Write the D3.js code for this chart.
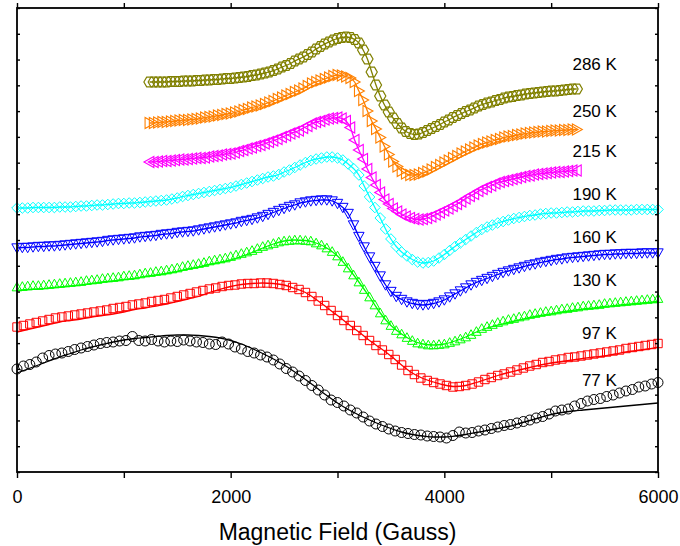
<!DOCTYPE html>
<html>
<head>
<meta charset="utf-8">
<script src="https://cdn.jsdelivr.net/npm/d3@7"></script>
<style>
  html, body { margin: 0; padding: 0; background: #ffffff; }
  svg { display: block; }
  text { font-family: "Liberation Sans", Arial, Helvetica, sans-serif; fill: #000; }
</style>
</head>
<body>
<svg id="chart" width="680" height="546"></svg>
<script>
// ---- axes ----
const fieldDomain = [0, 6000];            // Gauss
const intensityDomain = [0, 464];         // arbitrary units (spectra offset vertically)
const fieldTicks = [0, 1000, 2000, 3000, 4000, 5000, 6000];
const fieldTickLabels = ["0", "", "2000", "", "4000", "", "6000"];
const intensityTickCount = 18;

// ---- series ----
const temperatures = ["77 K", "97 K", "130 K", "160 K", "190 K", "215 K", "250 K", "286 K"];
const seriesColors = ["#000000", "#ff0000", "#00ff00", "#0000ff", "#00ffff", "#ff00ff", "#ff8000", "#808000"];
const seriesSymbols = ["circle", "square", "triangleUp", "triangleDown", "diamond", "triangleLeft", "triangleRight", "hexagon"];
// field sweep of each measured spectrum (Gauss)
const sweepStart = [0, 0, 0, 0, 0, 1240, 1240, 1240];
const sweepStep = [60, 60, 50, 50, 50, 40, 40, 40];
// fitted curves are tabulated every 100 G from 0 G
const fitStep = 100;

const data77 = [
  103,106,107.5,110,114,116.5,118,119,120.5,122.5,
  124,125.5,127,128.5,129.5,130,131,131.5,135.5,131.5,
  131,132.5,131,130,131,130.5,132,131,130,129.5,
  128,127.5,130,128,125,123,120.5,119,117,115,
  112,108,103.5,100,96,91.5,86.5,82,77,72,
  69.5,66,62,59,55,51,48,45.5,43,41,
  39.5,38.5,37.5,37,36,35.5,35,34,36.5,40,
  39,39.5,41,42,43.5,45,46.5,47.5,49,50.5,
  52,54,55.5,58,61,62,63,66,68.5,71,
  72.5,73.5,75.5,77,79,81,82.5,85,86,88,
  89.5
];
const fit77 = [
  99,103,107,111,115,118.5,122,125,127.5,130,
  132,133.5,134.5,135.5,136.5,137,137,136.5,135.5,134,
  131.5,128,123.5,118.5,113,107,100,92.5,84.5,76.5,
  69,62.5,57,52,47.5,43.5,40,37.5,36,35,
  35,36,37.5,39.5,41.5,43.5,45.5,48.5,51.5,54.5,
  57.5,59.5,61,62,63,64,65,66,67,68,
  69
];

const data97 = [
  145,146.5,148,149.5,151,152.5,154,155,156,157,
  158,159,160,161,162,163.5,164.5,165.5,167,168,
  169,170.5,171.5,172.5,174,175.5,177,178.5,180,181.5,
  183,184,185.5,186.5,187,188,188.5,188.5,189,189,
  188.5,187.5,186.5,184.5,182.5,179.5,175.5,171,166.5,161.5,
  156.5,151.5,146.5,141.5,136.5,131.5,126.5,122,117.5,112.5,
  107,101.5,97.5,94,91.5,89.5,88,86.5,85,85.5,
  86.5,88,90,92.5,94.5,96.5,98,100,102,104,
  106,107.5,109.5,110.5,112,113,114.5,115,116,117,
  118,119,120,121,122,123.5,124.5,125.5,126.5,127.5,
  128.5
];
const fit97 = [
  140,142.5,145,147.5,150,151.5,153,155,156.5,158,
  160,162.5,164,166,168,170.5,173,175.5,179.5,182.5,
  185.5,187.5,188.5,189,188.5,187,183.5,179.5,172.5,164.5,
  156.5,148,140,131.5,124,116,107,99,93.5,90,
  87,85.5,86.5,89.5,93,96.5,99.5,102,104.5,107,
  109,110.5,112,113.5,115,116,118,120,121.5,123,
  125
];

const data130 = [
  185,185.5,186,186.5,186.5,187,187.5,188,188.5,189,
  189.5,190,190.5,191.5,192,192.5,193.5,194,194.5,195,
  196,196.5,197,198,199,199.5,200.5,201,202,203,
  204,205.5,206.5,207.5,208.5,209.5,211,212,213,214,
  215.5,217,218.5,220,221.5,223.5,225.5,227,228.5,230,
  231,231.5,232,232,231.5,231,229,227,224,220.5,
  216,210.5,204,197,190,182.5,175,167,159,152,
  146.5,141.5,138,134.5,131.5,129,128,127,127,127.5,
  128,129.5,131,133,135,137.5,140.5,143.5,145.5,147.5,
  149.5,151,152.5,153.5,155,156,157.5,158.5,159.5,160.5,
  161,162,163,163.5,164.5,165,166,166.5,167,167.5,
  168.5,169,169.5,170,170.5,171,171.5,172,172.5,173,
  173.5
];
const fit130 = [
  181.5,182.5,183,184,185,186,187,188.5,190,191,
  192.5,193.5,195.5,197,198.5,200.5,203,205,207.5,209.5,
  212,215.5,219.5,224,228,231,232,231.5,229,224,
  216,204,190,175,159,146.5,138,131.5,128,127,
  128,131,135,140,144,147,149.5,152,154.5,156.5,
  158,160,161.5,163,164,165.5,166.5,167.5,168.5,169.5,
  170.5
];

const data160 = [
  224,224.5,224.5,225,225.5,225.5,226,226,226.5,227,
  227.5,228,228.5,229,229.5,230,230.5,231.5,232,232.5,
  233,233.5,234,235,235.5,236,236.5,237.5,238,238.5,
  239.5,240,240.5,241,242,243,244,245,246,247,
  248,249,250.5,251.5,252.5,254,255.5,257.5,259.5,261.5,
  263.5,265.5,267,269,270,271,271.5,272,272,271,
  268.5,264.5,258.5,247,235.5,225,215,205.5,196,187,
  180.5,175.5,172.5,170,168.5,167.5,167,167.5,168.5,170,
  172,175,178,181,184,187,189.5,191.5,193.5,195.5,
  197.5,199.5,201,202.5,204,205.5,207,208,209.5,210.5,
  211.5,212.5,213,214,214.5,215,215.5,216,216.5,217,
  217.5,217.5,218,218,218.5,218.5,218.5,219,219,219,
  219
];

const data190 = [
  264,264,264,264.5,264.5,264.5,264.5,264.5,265,265,
  265,265.5,266,266,266.5,267,267,267.5,268,268.5,
  268.5,269,269,269.5,270,270.5,271,271.5,272,273,
  274,275.5,276.5,277.5,278.5,279.5,280.5,281.5,282.5,283.5,
  284.5,286,287.5,289,290.5,292,293.5,295,296,297.5,
  300,302,304.5,307,309.5,311.5,313,314,315,315,
  314,312,308,303.5,297,286,275,264.5,254,243,
  233,225.5,220,216,212.5,210,209,209.5,211,214,
  217.5,221.5,225.5,229,232.5,236,239.5,242.5,245,247,
  249,250.5,252,253.5,254.5,255.5,256.5,257,258,258.5,
  259,259,259.5,260,260,260.5,261,261,261,261.5,
  261.5,262,262,262,262,262,262.5,262.5,262.5,262.5,
  262.5
];

const data215 = [
  310,310,310.5,311,311,311.5,312,312.5,312.5,313,
  313.5,314,314,314.5,315.5,316,316.5,317.5,318,318.5,
  319.5,321,322,323.5,324.5,326,327,328.5,330,331.5,
  333,335,336.5,338.5,340,341.5,344,346,348.5,350,
  351,352.5,353.5,354,354.5,353.5,351,344.5,332,322,
  313,303,294.5,287,279.5,272.5,268,263.5,260.5,257.5,
  255.5,254,253,252.5,253,254,255.5,257.5,259.5,261.5,
  263.5,266,268,270.5,273.5,276,278,281,283,285,
  286.5,288.5,290,291,292,293,294,295,296,296.5,
  297.5,298,298.5,299,299.5,300,300,300.5,301,301.5,
  301.5
];

const data250 = [
  349,349,349.5,350,350,350.5,351,351.5,352,352,
  352.5,353,353.5,354.5,355,355.5,356.5,357,358,358.5,
  359.5,360.5,362,363,364.5,365.5,366.5,368,369.5,371,
  373,374.5,376.5,378,380,381.5,383.5,386,388.5,390,
  391.5,393,394.5,396,397,396.5,395.5,394,390,381,
  372,361,351,343,334.5,325.5,317.5,310.5,305.5,301,
  298.5,297,297,297.5,299,300.5,302.5,305,307,309.5,
  311.5,314,316,318.5,320.5,322.5,324.5,326.5,328,329.5,
  330.5,332,333,334.5,335.5,336,337,337.5,338.5,339,
  339.5,340,340.5,340.5,341,341.5,341.5,342,342,342.5,
  342.5
];

const data286 = [
  390,390,390,390,390,390.5,390.5,390.5,391,391,
  391,391.5,391.5,392,392,392.5,392.5,393,393.5,393.5,
  394,394.5,395,395.5,396.5,397,398,399,400,401.5,
  403,405,406.5,408.5,411,413,415,417.5,420,423,
  425.5,428,430,432,433.5,434.5,435,434.5,432.5,429,
  422,413,400,387,376,367,360,354,348.5,344,
  340.5,338.5,337.5,338,339.5,341.5,343.5,345.5,347.5,350,
  352,354.5,356.5,358.5,360.5,362,364,366,367.5,369,
  370,371.5,372.5,374,375,375.5,376.5,377,378,378.5,
  379,379.5,380,380.5,381,381,381.5,382,382.5,383,
  383
];

const measured = [data77, data97, data130, data160, data190, data215, data250, data286];
const fitted = [fit77, fit97, fit130, null, null, null, null, null];

// temperature label anchors: [field (G), intensity]
const labelAnchors = [[5615, 86], [5615, 133], [5615, 186], [5615, 229], [5615, 272], [5615, 315], [5615, 355], [5615, 402]];

// ---- layout ----
const plot = { left: 17, right: 658, top: 8, bottom: 472 };
const svg = d3.select("#chart");

const x = d3.scaleLinear().domain(fieldDomain).range([plot.left, plot.right]);
const y = d3.scaleLinear().domain(intensityDomain).range([plot.bottom, plot.top]);

const yTicks = d3.range(intensityTickCount + 1).map(i =>
  intensityDomain[0] + i * (intensityDomain[1] - intensityDomain[0]) / intensityTickCount);

// marker outlines
function symbolPath(type, s) {
  const pts = (arr) => "M" + arr.map(p => p[0].toFixed(2) + "," + p[1].toFixed(2)).join("L") + "Z";
  switch (type) {
    case "circle":
      return `M${-s},0A${s},${s} 0 1,0 ${s},0A${s},${s} 0 1,0 ${-s},0Z`;
    case "square":
      return pts([[-s, -s], [s, -s], [s, s], [-s, s]]);
    case "triangleUp":
      return pts([[0, -s], [s, 0.8 * s], [-s, 0.8 * s]]);
    case "triangleDown":
      return pts([[0, s], [s, -0.8 * s], [-s, -0.8 * s]]);
    case "triangleLeft":
      return pts([[-s, 0], [0.8 * s, -s], [0.8 * s, s]]);
    case "triangleRight":
      return pts([[s, 0], [-0.8 * s, -s], [-0.8 * s, s]]);
    case "diamond":
      return pts([[0, -s], [s, 0], [0, s], [-s, 0]]);
    case "hexagon":
      return pts([[-s, 0], [-s / 2, -0.87 * s], [s / 2, -0.87 * s], [s, 0], [s / 2, 0.87 * s], [-s / 2, 0.87 * s]]);
  }
}
const symbolSize = { circle: 5, square: 4.2, triangleUp: 4.8, triangleDown: 5.2, diamond: 5.3, triangleLeft: 5.5, triangleRight: 5.5, hexagon: 5.6 };
const symbolStroke = { circle: 1, square: 1, triangleUp: 1, triangleDown: 1, diamond: 1, triangleLeft: 1.1, triangleRight: 1.1, hexagon: 1.2 };

const line = d3.line().x(d => x(d[0])).y(d => y(d[1])).curve(d3.curveMonotoneX);

// ---- spectra ----
const gSeries = svg.append("g");
temperatures.forEach((t, k) => {
  const pts = measured[k].map((v, i) => [sweepStart[k] + i * sweepStep[k], v]);
  const fitPts = fitted[k] ? fitted[k].map((v, i) => [i * fitStep, v]) : pts;
  const g = gSeries.append("g").attr("class", "series");
  const type = seriesSymbols[k];
  const sym = symbolPath(type, symbolSize[type]);
  g.selectAll("path.marker").data(pts).enter().append("path")
    .attr("class", "marker")
    .attr("d", sym)
    .attr("transform", d => `translate(${x(d[0])},${y(d[1])})`)
    .attr("fill", "none")
    .attr("stroke", seriesColors[k])
    .attr("stroke-width", symbolStroke[type]);
  g.append("path")
    .attr("d", line(fitPts))
    .attr("fill", "none")
    .attr("stroke", seriesColors[k])
    .attr("stroke-width", 1.3);
});

// ---- temperature labels ----
svg.append("g").selectAll("text").data(temperatures).enter().append("text")
  .attr("x", (d, k) => x(labelAnchors[k][0]))
  .attr("y", (d, k) => y(labelAnchors[k][1]))
  .attr("text-anchor", "end")
  .attr("font-size", 17)
  .text(d => d);

// ---- axes ----
const axBottom = svg.append("g").attr("transform", `translate(0,${plot.bottom})`)
  .call(d3.axisBottom(x).tickValues(fieldTicks).tickFormat((d, i) => fieldTickLabels[i]).tickSize(6).tickPadding(12));
const axTop = svg.append("g").attr("transform", `translate(0,${plot.top})`)
  .call(d3.axisTop(x).tickValues(fieldTicks).tickFormat("").tickSize(5));
const axLeft = svg.append("g").attr("transform", `translate(${plot.left},0)`)
  .call(d3.axisLeft(y).tickValues(yTicks).tickFormat("").tickSize(-3));
const axRight = svg.append("g").attr("transform", `translate(${plot.right},0)`)
  .call(d3.axisRight(y).tickValues(yTicks).tickFormat("").tickSize(-3));

[axBottom, axTop, axLeft, axRight].forEach(a => {
  a.select(".domain").remove();
  a.selectAll(".tick line").attr("stroke", "#000").attr("stroke-width", 1.4);
});
axBottom.selectAll(".tick text")
  .attr("font-size", 18)
  .attr("font-family", '"Liberation Sans", Arial, sans-serif')
  .attr("fill", "#000");

svg.append("rect")
  .attr("x", plot.left).attr("y", plot.top)
  .attr("width", plot.right - plot.left).attr("height", plot.bottom - plot.top)
  .attr("fill", "none").attr("stroke", "#000").attr("stroke-width", 1.8);

svg.append("text")
  .attr("x", (plot.left + plot.right) / 2)
  .attr("y", 540)
  .attr("text-anchor", "middle")
  .attr("font-size", 23)
  .text("Magnetic Field (Gauss)");
</script>
</body>
</html>
